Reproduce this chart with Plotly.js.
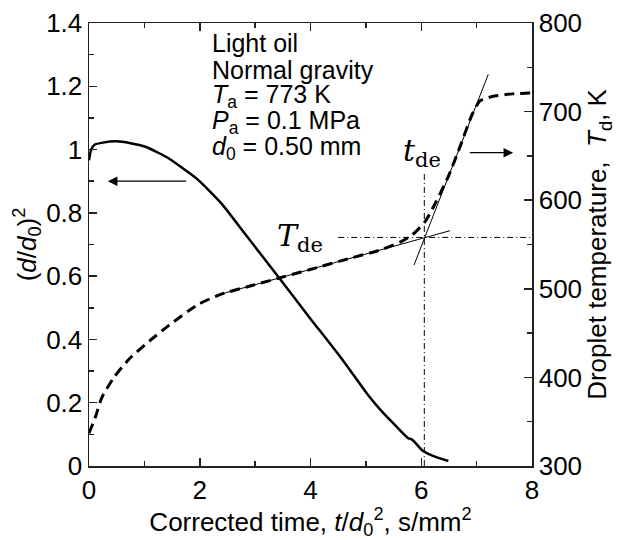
<!DOCTYPE html>
<html>
<head>
<meta charset="utf-8">
<script src="https://cdn.plot.ly/plotly-3.0.1.min.js"></script>
<style>html,body{margin:0;padding:0;background:#fff;}</style>
</head>
<body>
<div id="chart" style="width:622px;height:540px;"></div>
<script>
// Diameter-squared history (left axis)
const diamTime = [0, 0.04, 0.1, 0.25, 0.5, 0.75, 1.02, 1.25, 1.45, 1.7, 1.96, 2.39, 2.82, 3.4, 3.97, 4.55, 5.05, 5.3, 5.55, 5.77, 5.82, 5.87, 6.02, 6.2, 6.49];
const diamSq   = [0.966, 1.0, 1.015, 1.022, 1.026, 1.02, 1.009, 0.99, 0.971, 0.94, 0.906, 0.83, 0.733, 0.602, 0.472, 0.342, 0.222, 0.17, 0.125, 0.087, 0.085, 0.078, 0.049, 0.033, 0.016];

// Droplet temperature history (right axis, K)
const tempTime = [0, 0.12, 0.23, 0.45, 0.73, 1.09, 1.45, 1.96, 2.39, 2.96, 3.54, 4.12, 4.69, 5.27, 5.63, 5.84, 6.06, 6.2, 6.49, 6.71, 6.92, 7.06, 7.28, 7.64, 8.0];
const tempK    = [337, 356, 377, 400, 421, 441, 459, 482, 494, 504, 514, 524, 534, 544, 553, 561, 575, 590, 627, 662, 697, 712, 717, 720, 721];

// Tangent lines (right axis)
const tanShallowTime = [2.4, 6.52];
const tanShallowTemp = [494.3, 565.6];
const tanSteepTime   = [5.87, 7.21];
const tanSteepTemp   = [526.9, 742];

// Evaporation end point
const tDe = 6.055;
const TDe = 558;
const TDeLineStart = 4.5;
const tDeLineTop = 632;

// Tick labels
const xTicks  = [0, 2, 4, 6, 8];
const yTicks  = [0, 0.2, 0.4, 0.6, 0.8, 1, 1.2, 1.4];
const y2Ticks = [300, 400, 500, 600, 700, 800];

// Condition text
const condLines = ['Light oil', 'Normal gravity', '<i>T</i><sub>a</sub> = 773 K', '<i>P</i><sub>a</sub> = 0.1 MPa', '<i>d</i><sub>0</sub> = 0.50 mm'];

const FONT = 'Liberation Sans, Arial, sans-serif';
const SERIF = 'DejaVu Serif, Liberation Serif, serif';
const AX = '#222';

const traces = [
  {x: diamTime, y: diamSq, mode: 'lines', line: {color: '#000', width: 2.5, shape: 'spline', smoothing: 0.6}, yaxis: 'y', hoverinfo: 'skip'},
  {x: tempTime, y: tempK, mode: 'lines', line: {color: '#000', width: 3, dash: '10px,6px', shape: 'spline', smoothing: 0.6}, yaxis: 'y2', hoverinfo: 'skip'},
  {x: tanShallowTime, y: tanShallowTemp, mode: 'lines', line: {color: '#000', width: 1}, yaxis: 'y2', hoverinfo: 'skip'},
  {x: tanSteepTime, y: tanSteepTemp, mode: 'lines', line: {color: '#000', width: 1}, yaxis: 'y2', hoverinfo: 'skip'},
  {x: [TDeLineStart, 8], y: [TDe, TDe], mode: 'lines', line: {color: '#000', width: 1, dash: '6px,3px,1px,3px'}, yaxis: 'y2', hoverinfo: 'skip'},
  {x: [tDe, tDe], y: [300, tDeLineTop], mode: 'lines', line: {color: '#000', width: 1, dash: '6px,3px,1px,3px'}, yaxis: 'y2', hoverinfo: 'skip'}
];

const annotations = [];
const lineYpx = [43, 69.5, 95.5, 122, 148];
condLines.forEach((txt, i) => {
  annotations.push({text: txt, xref: 'paper', yref: 'paper', x: (210 - 89) / 443, y: (466 - lineYpx[i]) / 443,
    xanchor: 'left', yanchor: 'middle', showarrow: false, font: {family: FONT, size: 25, color: '#000'}});
});
annotations.push({text: '<i>T</i><sub>de</sub>', xref: 'x', yref: 'y2', x: 4.27, y: TDe, xanchor: 'right', yanchor: 'middle',
  showarrow: false, font: {family: SERIF, size: 30, color: '#000'}});
annotations.push({text: '<i>t</i><sub>de</sub>', xref: 'x', yref: 'y2', x: 6.4, y: 654, xanchor: 'right', yanchor: 'middle',
  showarrow: false, font: {family: SERIF, size: 30, color: '#000'}});
annotations.push({x: 0.34, y: 0.9, ax: 1.78, ay: 0.9, xref: 'x', yref: 'y', axref: 'x', ayref: 'y', text: '',
  showarrow: true, arrowhead: 2, arrowsize: 1.6, arrowwidth: 1.2, arrowcolor: '#000'});
annotations.push({x: 7.66, y: 653.6, ax: 6.85, ay: 653.6, xref: 'x', yref: 'y2', axref: 'x', ayref: 'y2', text: '',
  showarrow: true, arrowhead: 2, arrowsize: 1.6, arrowwidth: 1.2, arrowcolor: '#000'});

const layout = {
  width: 622, height: 540,
  margin: {l: 89, r: 90, t: 23, b: 74},
  paper_bgcolor: '#fff', plot_bgcolor: '#fff',
  showlegend: false,
  font: {family: FONT, size: 26, color: '#000'},
  xaxis: {
    range: [0, 8], tickvals: xTicks, ticktext: xTicks.map(String),
    ticks: 'inside', ticklen: 8, tickwidth: 1.5, tickcolor: AX,
    minor: {dtick: 1, ticks: 'inside', ticklen: 5, tickwidth: 1.5, tickcolor: AX},
    showline: true, linecolor: AX, linewidth: 1.5, mirror: 'ticks',
    showgrid: false, zeroline: false,
    tickfont: {family: FONT, size: 26},
    title: {text: 'Corrected time, <i>t</i>/<i>d</i><sub>0</sub><sup>2</sup>, s/mm<sup>2</sup>', font: {family: FONT, size: 26}, standoff: 2}
  },
  yaxis: {
    range: [0, 1.4], tickvals: yTicks, ticktext: ['0', '0.2', '0.4', '0.6', '0.8', '1', '1.2', '1.4'],
    ticks: 'inside', ticklen: 8, tickwidth: 1.5, tickcolor: AX,
    minor: {dtick: 0.1, ticks: 'inside', ticklen: 5, tickwidth: 1.5, tickcolor: AX},
    showline: true, linecolor: AX, linewidth: 1.5,
    showgrid: false, zeroline: false,
    tickfont: {family: FONT, size: 26},
    title: {text: '(<i>d</i>/<i>d</i><sub>0</sub>)<sup>2</sup>', font: {family: FONT, size: 26}, standoff: 2}
  },
  yaxis2: {
    overlaying: 'y', side: 'right',
    range: [300, 800], tickvals: y2Ticks, ticktext: y2Ticks.map(String),
    ticks: 'inside', ticklen: 8, tickwidth: 1.5, tickcolor: AX,
    minor: {dtick: 50, ticks: 'inside', ticklen: 5, tickwidth: 1.5, tickcolor: AX},
    showline: true, linecolor: AX, linewidth: 1.5,
    showgrid: false, zeroline: false,
    tickfont: {family: FONT, size: 26},
    title: {text: 'Droplet temperature,  <i>T</i><sub>d</sub>, K', font: {family: FONT, size: 26}, standoff: 2}
  },
  annotations: annotations
};

Plotly.newPlot('chart', traces, layout, {displayModeBar: false, staticPlot: true});
</script>
</body>
</html>
